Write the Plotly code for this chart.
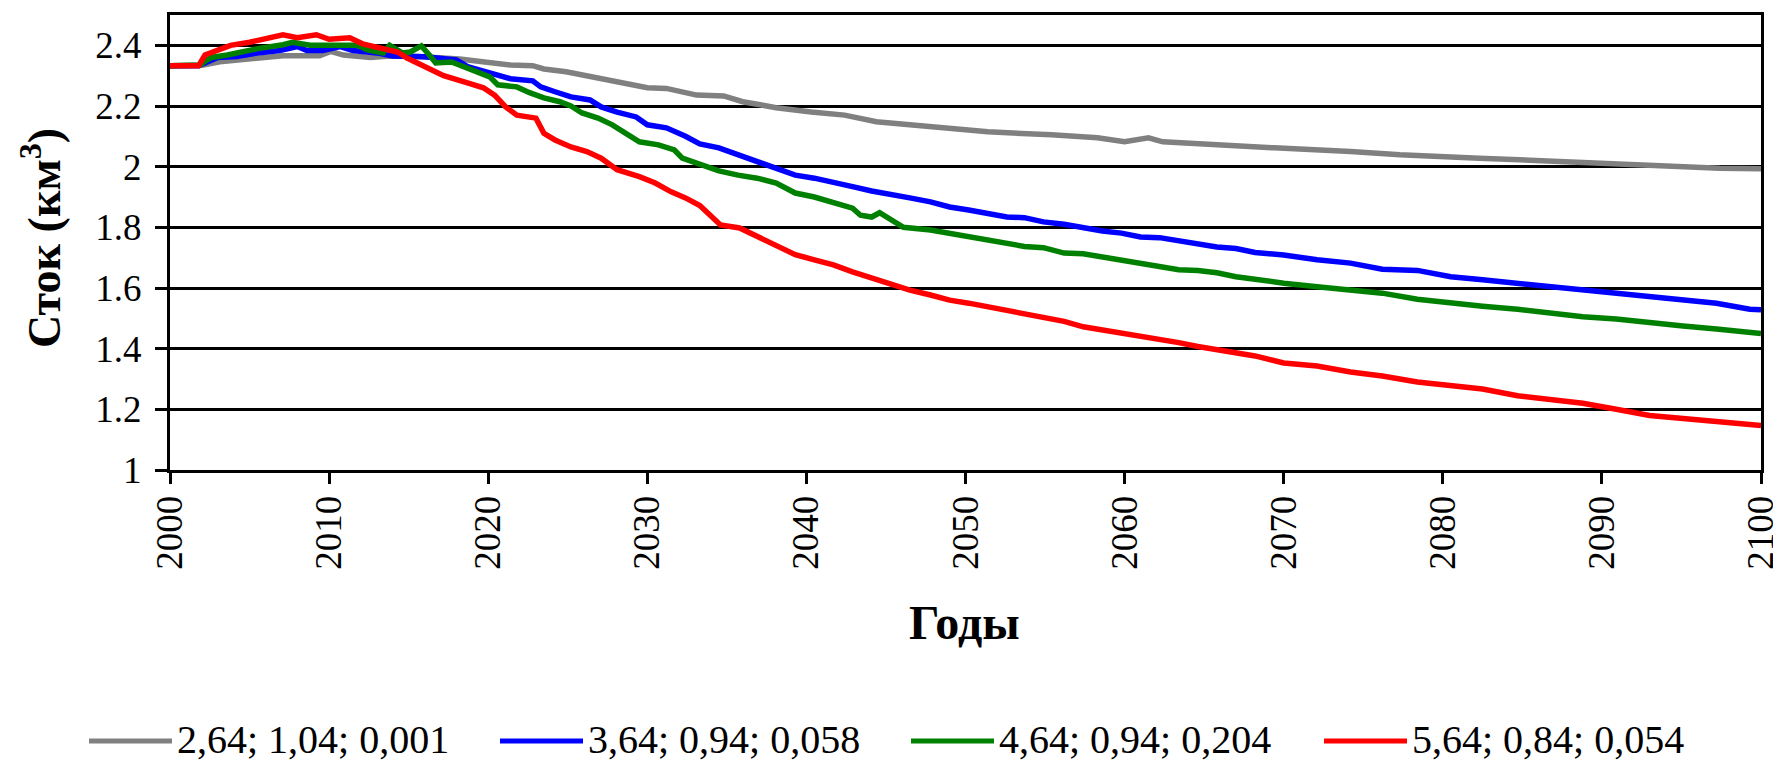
import plotly.graph_objects as go

# ---- data ----
names = ["2,64; 1,04; 0,001", "3,64; 0,94; 0,058", "4,64; 0,94; 0,204", "5,64; 0,84; 0,054"]
colors = ["#808080", "#0000FF", "#008000", "#FF0000"]

gray_x = [2000, 2001, 2002.1, 2003.3, 2004.2, 2005.5, 2007.1, 2009.4, 2010.1, 2010.9, 2012.6, 2013.8,
          2015.6, 2018.2, 2019.5, 2021.4, 2022.8, 2023.5, 2024.9, 2026.2, 2027.1, 2028.1, 2029, 2030,
          2031.2, 2032.2, 2033.1, 2034.8, 2036, 2037.1, 2038.1, 2040.3, 2042.4, 2044.4, 2046.3, 2048.5,
          2051.4, 2055.4, 2058.3, 2060, 2061.5, 2062.4, 2065.3, 2069.4, 2074.2, 2077.3, 2082.3, 2087.4,
          2092.3, 2097.4, 2100]
gray_y = [2.333, 2.333, 2.335, 2.347, 2.352, 2.36, 2.366, 2.366, 2.38, 2.368, 2.36, 2.365,
          2.363, 2.355, 2.347, 2.335, 2.333, 2.322, 2.313, 2.3, 2.292, 2.28, 2.27, 2.26,
          2.258, 2.247, 2.236, 2.233, 2.214, 2.204, 2.194, 2.18, 2.17, 2.148, 2.138, 2.128,
          2.115, 2.105, 2.095, 2.082, 2.095, 2.082, 2.072, 2.062, 2.05, 2.039, 2.028, 2.016,
          2.006, 1.995, 1.993]

blue_x = [2000, 2001.8, 2002.2, 2003, 2004.2, 2005.5, 2006.9, 2008, 2008.6, 2009.6, 2010.7, 2011.5,
          2013, 2014, 2016, 2018, 2018.7, 2020.4, 2021.4, 2022.8, 2023.3, 2024.2, 2025.2, 2026.4,
          2027.1, 2028.1, 2029.3, 2030, 2031.2, 2032.4, 2033.3, 2034.5, 2035.7, 2036.9, 2038.1, 2039.3,
          2040.5, 2041.7, 2042.9, 2044.1, 2045.3, 2046.5, 2047.8, 2049, 2050.2, 2051.4, 2052.6, 2053.7,
          2054.9, 2056.2, 2057.4, 2058.6, 2059.8, 2061, 2062.2, 2063.4, 2064.6, 2065.8, 2067, 2068.2,
          2070, 2072.1, 2074.2, 2076.2, 2078.4, 2080.5, 2082.5, 2084.7, 2086.7, 2088.8, 2090.9, 2093,
          2095.1, 2097.2, 2099.3, 2100]
blue_y = [2.333, 2.333, 2.342, 2.36, 2.363, 2.375, 2.383, 2.396, 2.383, 2.383, 2.396, 2.383,
          2.375, 2.365, 2.362, 2.352, 2.33, 2.306, 2.29, 2.283, 2.263, 2.247, 2.23, 2.22,
          2.197, 2.18, 2.164, 2.138, 2.128, 2.1, 2.075, 2.062, 2.039, 2.016, 1.995, 1.972,
          1.962, 1.95, 1.934, 1.92, 1.91, 1.897, 1.884, 1.867, 1.857, 1.847, 1.834, 1.832,
          1.818, 1.81, 1.798, 1.788, 1.781, 1.768, 1.766, 1.755, 1.745, 1.735, 1.73, 1.717,
          1.709, 1.693, 1.682, 1.662, 1.658, 1.637, 1.627, 1.616, 1.604, 1.593, 1.583, 1.57,
          1.56, 1.55, 1.53, 1.528]

green_x = [2000, 2001.9, 2002.2, 2002.6, 2003.6, 2004.6, 2005.6, 2007.1, 2007.7, 2008.8, 2010.5, 2011.8,
           2012.4, 2013.4, 2013.8, 2014.6, 2015.1, 2015.8, 2016.3, 2016.7, 2017.7, 2018.5, 2019.2, 2020.1,
           2020.6, 2021.8, 2022.6, 2023.5, 2024.5, 2025.2, 2025.9, 2026.9, 2027.8, 2028.6, 2029.5, 2030.7,
           2031.7, 2032.2, 2033.3, 2034.5, 2035.7, 2036.9, 2038.1, 2039.3, 2040.5, 2041.7, 2042.9, 2043.4,
           2044.1, 2044.6, 2045.3, 2046.1, 2047.8, 2049, 2050.2, 2051.4, 2052.6, 2053.7, 2054.9, 2056.2,
           2057.4, 2058.6, 2059.8, 2061, 2062.2, 2063.4, 2064.6, 2065.8, 2067, 2068.2, 2070, 2072.1,
           2074.2, 2076.2, 2078.4, 2080.5, 2082.5, 2084.7, 2086.7, 2088.8, 2090.9, 2093, 2095.1, 2097.2,
           2099.3, 2100]
green_y = [2.333, 2.335, 2.347, 2.36, 2.368, 2.38, 2.39, 2.402, 2.41, 2.40, 2.40, 2.40,
           2.385, 2.375, 2.40, 2.375, 2.378, 2.398, 2.368, 2.342, 2.345, 2.33, 2.313, 2.296,
           2.27, 2.263, 2.244, 2.227, 2.214, 2.2, 2.177, 2.16, 2.138, 2.11, 2.082, 2.072,
           2.055, 2.028, 2.01, 1.986, 1.972, 1.962, 1.946, 1.913, 1.9, 1.88, 1.863, 1.84,
           1.834, 1.848, 1.824, 1.8, 1.791, 1.78, 1.768, 1.758, 1.748, 1.737, 1.733, 1.715,
           1.713, 1.703, 1.693, 1.682, 1.67, 1.66, 1.658, 1.65, 1.637, 1.627, 1.616, 1.604,
           1.593, 1.583, 1.563, 1.55, 1.54, 1.53, 1.517, 1.505, 1.498, 1.485, 1.475, 1.465,
           1.452, 1.45]

red_x = [2000, 2001.8, 2002.2, 2003.1, 2003.8, 2005, 2006.3, 2007.1, 2008, 2009.2, 2010, 2011.3,
         2012.1, 2013.4, 2014.3, 2014.9, 2015.5, 2016.3, 2017.2, 2018.7, 2019.7, 2020.4, 2021.1, 2021.8,
         2023, 2023.5, 2024.2, 2025.2, 2026.2, 2027.1, 2028.1, 2029.5, 2030.5, 2031.5, 2032.4, 2033.3,
         2034.1, 2034.6, 2035.8, 2036.9, 2038.1, 2039.3, 2040.5, 2041.7, 2042.9, 2044.1, 2045.3, 2046.5,
         2047.8, 2049, 2050.2, 2051.4, 2052.6, 2053.7, 2054.9, 2056.2, 2057.4, 2058.6, 2059.8, 2061,
         2062.2, 2063.4, 2064.6, 2065.8, 2067, 2068.2, 2070, 2072.1, 2074.2, 2076.2, 2078.4, 2080.5,
         2082.5, 2084.7, 2086.7, 2088.8, 2090.9, 2093, 2095.1, 2097.2, 2099.3, 2100]
red_y = [2.333, 2.333, 2.368, 2.385, 2.40, 2.41, 2.424, 2.435, 2.425, 2.435, 2.42, 2.425,
         2.405, 2.388, 2.378, 2.358, 2.342, 2.325, 2.3, 2.276, 2.26, 2.236, 2.197, 2.17,
         2.16, 2.11, 2.088, 2.065, 2.05, 2.028, 1.99, 1.967, 1.946, 1.917, 1.897, 1.872,
         1.835, 1.808, 1.798, 1.77, 1.742, 1.71, 1.693, 1.676, 1.653, 1.633, 1.616, 1.593,
         1.577, 1.56, 1.55, 1.538, 1.527, 1.517, 1.505, 1.49, 1.472, 1.462, 1.452, 1.44,
         1.432, 1.42, 1.407, 1.398, 1.387, 1.376, 1.353, 1.343, 1.323, 1.31, 1.29, 1.277,
         1.267, 1.245, 1.234, 1.22, 1.2, 1.18, 1.17, 1.16, 1.148, 1.147]

x_ticks = list(range(2000, 2101, 10))
y_ticks = [1, 1.2, 1.4, 1.6, 1.8, 2, 2.2, 2.4]
y_tick_text = ["1", "1.2", "1.4", "1.6", "1.8", "2", "2.2", "2.4"]

x_title = "Годы"
y_title = "Сток (км<sup>3</sup>)"

# ---- figure ----
W, H = 1773, 762
ML, MR, MT, MB = 170, 12, 15, 292
PW, PH = W - ML - MR, H - MT - MB
SERIF = "Liberation Serif"

fig = go.Figure()
series = [(gray_x, gray_y), (blue_x, blue_y), (green_x, green_y), (red_x, red_y)]
for (xs, ys), nm, c in zip(series, names, colors):
    fig.add_trace(go.Scatter(x=xs, y=ys, mode="lines", name=nm,
                             line=dict(color=c, width=5.5), showlegend=False))

fig.update_layout(
    width=W, height=H,
    margin=dict(l=ML, r=MR, t=MT, b=MB, pad=0, autoexpand=False),
    paper_bgcolor="white", plot_bgcolor="white",
    font=dict(family=SERIF, color="black"),
)
fig.update_xaxes(range=[2000, 2100], tickvals=x_ticks, tickangle=-90,
                 ticks="outside", ticklen=11, tickwidth=3, tickcolor="black",
                 showline=True, linewidth=3, linecolor="black", mirror=True,
                 showgrid=False, zeroline=False, ticklabeloverflow="allow",
                 automargin=False, ticklabelstandoff=-3,
                 tickfont=dict(family=SERIF, size=37, color="black"))
fig.update_yaxes(range=[1, 2.5], tickvals=y_ticks, ticktext=y_tick_text,
                 ticks="outside", ticklen=12, tickwidth=3, tickcolor="black",
                 showline=True, linewidth=3, linecolor="black", mirror=True,
                 showgrid=True, gridcolor="black", gridwidth=3, zeroline=False,
                 ticklabelstandoff=6, automargin=False,
                 tickfont=dict(family=SERIF, size=37, color="black"))

def px_x(px):
    return (px - ML) / PW

def px_y(py):
    return (H - MB - py) / PH

# axis titles
fig.add_annotation(text="<b>" + y_title + "</b>", xref="paper", yref="paper",
                   x=px_x(41), y=px_y(238), textangle=-90, showarrow=False,
                   xanchor="center", yanchor="middle",
                   font=dict(family=SERIF, size=46, color="black"))
fig.add_annotation(text="<b>" + x_title + "</b>", xref="paper", yref="paper",
                   x=px_x(964), y=px_y(622), showarrow=False,
                   xanchor="center", yanchor="middle",
                   font=dict(family=SERIF, size=48, color="black"))

# legend (drawn in layout space to match the long sample lines)
leg_line_x0 = [89, 500, 911, 1324]
leg_y = 741
for x0, nm, c in zip(leg_line_x0, names, colors):
    fig.add_shape(type="line", xref="paper", yref="paper",
                  x0=px_x(x0), x1=px_x(x0 + 83), y0=px_y(leg_y), y1=px_y(leg_y),
                  line=dict(color=c, width=5))
    fig.add_annotation(text=nm, xref="paper", yref="paper",
                       x=px_x(x0 + 86), y=px_y(leg_y - 2), showarrow=False,
                       xanchor="left", yanchor="middle",
                       font=dict(family=SERIF, size=40, color="black"))

fig.write_html("out.html", config={"displayModeBar": False},
               post_script="document.body.style.margin='0';document.body.style.overflow='hidden';")
